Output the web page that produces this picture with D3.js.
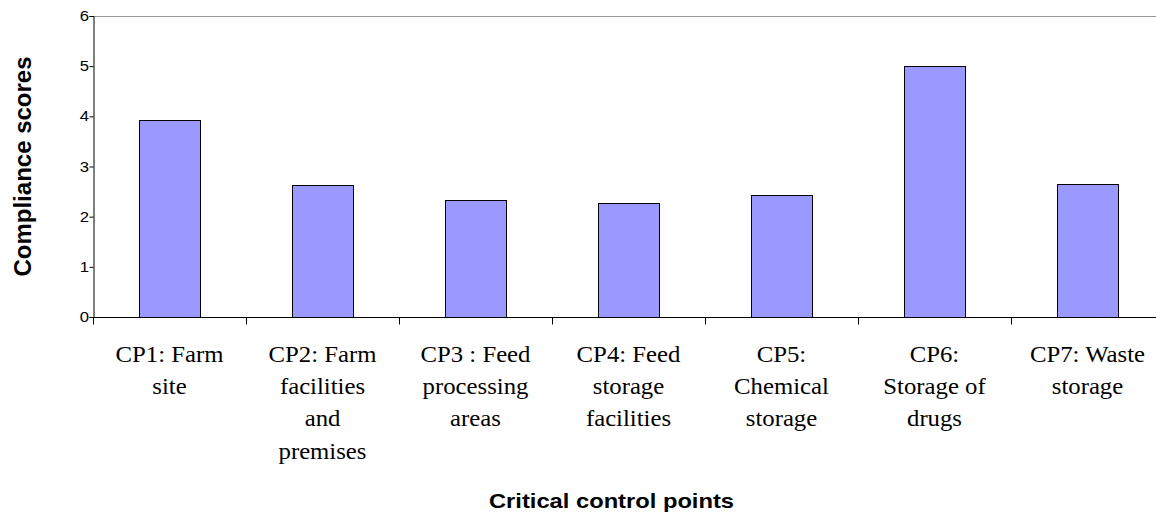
<!DOCTYPE html>
<html><head><meta charset="utf-8">
<script src="https://cdn.jsdelivr.net/npm/d3@7"></script>
<style>body{margin:0;background:#fff}svg{display:block}</style>
</head><body>
<script>
const categories = ["CP1","CP2","CP3","CP4","CP5","CP6","CP7"];
const categoryLabels = [
  ["CP1: Farm","site"],
  ["CP2: Farm","facilities","and","premises"],
  ["CP3 : Feed","processing","areas"],
  ["CP4: Feed","storage","facilities"],
  ["CP5:","Chemical","storage"],
  ["CP6:","Storage of","drugs"],
  ["CP7: Waste","storage"]
];
const scores = [3.93, 2.64, 2.34, 2.27, 2.43, 5.0, 2.66];
const yTicks = [0,1,2,3,4,5,6];
const yTitle = "Compliance scores";
const xTitle = "Critical control points";

(function(){
const W = 1156, H = 516;
const SANS = "Liberation Sans, Arial, sans-serif";
const SERIF = "Liberation Serif, Times New Roman, serif";
const svg = d3.select("body").append("svg").attr("width", W).attr("height", H);
const mLeft = 93, mRight = 1164, mTop = 16, mBottom = 317;

const x = d3.scaleBand().domain(categories).range([mLeft, mRight]).padding(0);
const y = d3.scaleLinear().domain([0, 6]).range([mBottom, mTop]);
const bw = x.bandwidth() * 0.4;

// top border line
svg.append("line").attr("x1", mLeft).attr("x2", W).attr("y1", y(6)+0.5).attr("y2", y(6)+0.5)
  .attr("stroke", "#999").attr("stroke-width", 1);

// bars
svg.selectAll("rect.bar").data(scores).enter().append("rect")
  .attr("class","bar")
  .attr("x", (d,i) => Math.round(x(categories[i]) + x.bandwidth()/2 - bw/2) + 0.5)
  .attr("y", d => Math.round(y(d)) + 0.5)
  .attr("width", Math.round(bw))
  .attr("height", d => Math.round(y(0)) - Math.round(y(d)))
  .attr("fill", "#9999FF").attr("stroke", "#000").attr("stroke-width", 1);

// y axis
const yAxis = d3.axisLeft(y).tickValues(yTicks).tickSize(4).tickPadding(1).tickFormat(d3.format("d"));
const gy = svg.append("g").attr("transform", `translate(${mLeft+0.5},0)`).call(yAxis);
gy.select(".domain").attr("stroke", "#000");
gy.selectAll(".tick line").attr("stroke", "#000");
gy.selectAll(".tick text").attr("font-family", SANS)
  .attr("font-size", 14.5).attr("fill", "#000")
  .attr("transform","scale(1.15,1)").attr("x", -4.5/1.15);

// x axis
const gx = svg.append("g").attr("transform", `translate(0,${mBottom+0.5})`);
gx.append("line").attr("x1", mLeft).attr("x2", W).attr("stroke", "#000");
const boundaries = categories.map(c => x(c));
gx.selectAll("line.tk").data(boundaries).enter().append("line").attr("class","tk")
  .attr("x1", d => Math.round(d)+0.5).attr("x2", d => Math.round(d)+0.5)
  .attr("y1", 0).attr("y2", 7).attr("stroke", "#000");

// category labels
const lab = svg.append("g");
categoryLabels.forEach((lines, i) => {
  const cx = x(categories[i]) + x.bandwidth()/2;
  lines.forEach((ln, j) => {
    lab.append("text")
      .attr("transform", `translate(${cx},${362 + j*32.2}) scale(1.1,1)`)
      .attr("text-anchor", "middle")
      .attr("font-family", SERIF)
      .attr("font-size", 22.5).attr("fill", "#000")
      .text(ln);
  });
});

// axis titles
svg.append("text")
  .attr("transform", `translate(31,166.5) rotate(-90)`)
  .attr("text-anchor", "middle")
  .attr("font-family", SANS)
  .attr("font-weight", "bold").attr("font-size", 24).attr("fill", "#000")
  .text(yTitle);

svg.append("text")
  .attr("transform", `translate(611.5,508) scale(1.13,1)`)
  .attr("text-anchor", "middle")
  .attr("font-family", SANS)
  .attr("font-weight", "bold").attr("font-size", 21).attr("fill", "#000")
  .text(xTitle);
})();
</script>
</body></html>
